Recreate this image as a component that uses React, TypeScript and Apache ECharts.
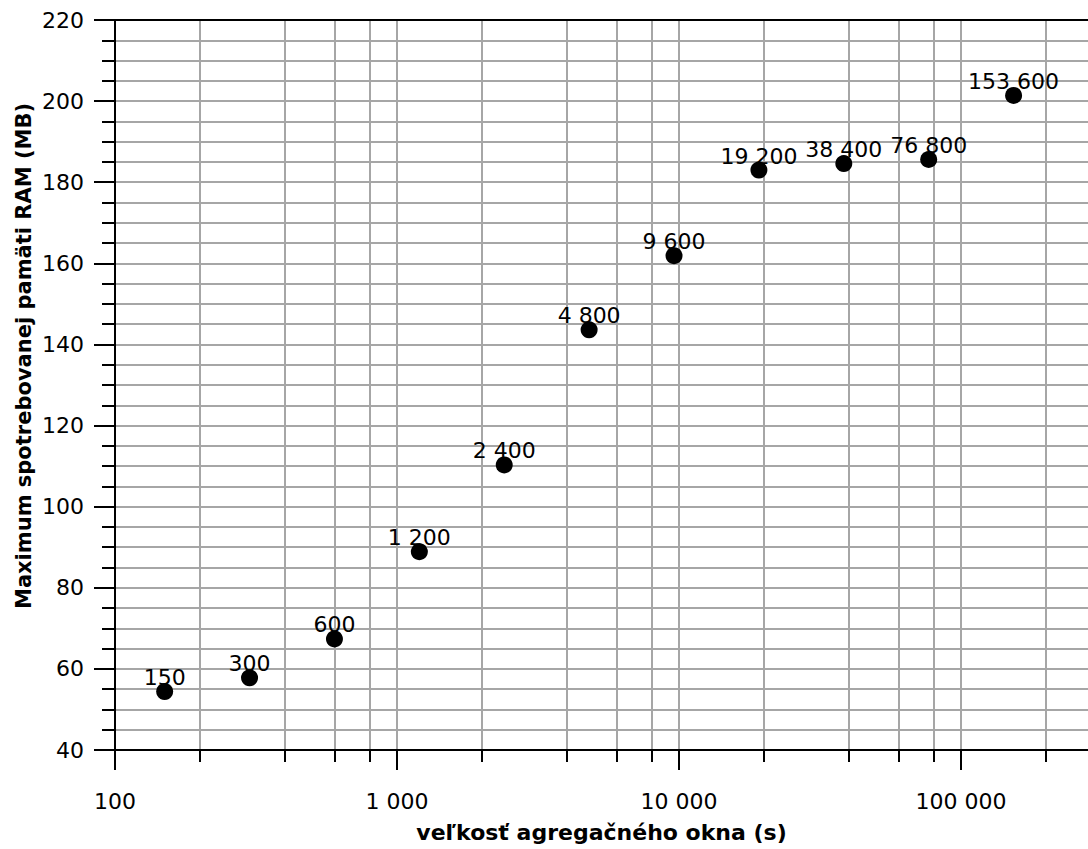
import React, { useEffect, useRef } from "react";
import * as echarts from "echarts";

const windowSizes = [150, 300, 600, 1200, 2400, 4800, 9600, 19200, 38400, 76800, 153600];
const maxRam = [54.4, 57.8, 67.4, 88.9, 110.3, 143.6, 161.9, 183.0, 184.6, 185.6, 201.4];
const majorXTicks = [100, 1000, 10000, 100000];
const minorXTicks = [
  200, 400, 600, 800,
  2000, 4000, 6000, 8000,
  20000, 40000, 60000, 80000,
  200000,
];
const xTitle = "veľkosť agregačného okna (s)";
const yTitle = "Maximum spotrebovanej pamäti RAM (MB)";

const fmt = (v: number) => String(Math.round(v)).replace(/\B(?=(\d{3})+(?!\d))/g, " ");
const FONT = "DejaVu Sans";

export default function App() {
  const ref = useRef<HTMLDivElement>(null);
  useEffect(() => {
    const chart = echarts.init(ref.current!, undefined, { renderer: "svg" });
    const xMin = 100;
    const xMax = 282000;
    chart.setOption({
      animation: false,
      backgroundColor: "#ffffff",
      textStyle: { fontFamily: FONT },
      grid: { left: 115, top: 20, right: 0, bottom: 99 },
      xAxis: [
        {
          type: "log",
          position: "bottom",
          min: xMin,
          max: xMax,
          axisLine: { show: true, lineStyle: { color: "#000", width: 2 } },
          axisTick: {
            show: true,
            inside: false,
            length: 20,
            customValues: majorXTicks,
            lineStyle: { color: "#000", width: 2 },
          },
          axisLabel: {
            customValues: majorXTicks,
            formatter: (v: number) => fmt(v),
            fontSize: 22,
            fontFamily: FONT,
            color: "#000",
            margin: 40,
          },
          splitLine: { show: true, lineStyle: { color: "#a6a6a6", width: 2 } },
          minorTick: { show: false },
          name: xTitle,
          nameLocation: "middle",
          nameGap: 71,
          nameTextStyle: { fontSize: 22, fontWeight: "bold", fontFamily: FONT, color: "#000" },
        },
        {
          type: "log",
          position: "bottom",
          min: xMin,
          max: xMax,
          axisLine: { show: false },
          axisTick: {
            show: true,
            inside: false,
            length: 12,
            customValues: minorXTicks,
            lineStyle: { color: "#000", width: 2 },
          },
          axisLabel: { show: false },
          splitLine: { show: true, lineStyle: { color: "#a6a6a6", width: 2 } },
        },
        {
          type: "log",
          position: "top",
          min: xMin,
          max: xMax,
          axisLine: { show: true, lineStyle: { color: "#000", width: 2 } },
          axisTick: { show: false },
          axisLabel: { show: false },
          splitLine: { show: false },
        },
      ],
      yAxis: {
        type: "value",
        min: 40,
        max: 220,
        interval: 20,
        axisLine: { show: true, lineStyle: { color: "#000", width: 2 } },
        axisTick: { show: true, inside: false, length: 21, lineStyle: { color: "#000", width: 2 } },
        minorTick: { show: true, splitNumber: 4, length: 13, lineStyle: { color: "#000", width: 2 } },
        axisLabel: { fontSize: 22, fontFamily: FONT, color: "#000", margin: 31 },
        splitLine: { show: true, lineStyle: { color: "#a6a6a6", width: 2 } },
        minorSplitLine: { show: true, lineStyle: { color: "#a6a6a6", width: 2 } },
      },
      graphic: [
        {
          type: "text",
          x: 24,
          y: 356,
          rotation: Math.PI / 2,
          style: {
            text: yTitle,
            fontSize: 21,
            fontWeight: "bold",
            fontFamily: FONT,
            fill: "#000",
            align: "center",
            verticalAlign: "middle",
          },
        },
      ],
      series: [
        {
          type: "scatter",
          xAxisIndex: 0,
          symbol: "circle",
          symbolSize: 17,
          itemStyle: { color: "#000", opacity: 1 },
          data: windowSizes.map((x, i) => [x, maxRam[i]]),
          label: {
            show: true,
            position: "inside",
            offset: [0, -14],
            formatter: (p: any) => fmt(p.value[0]),
            fontSize: 22,
            fontFamily: FONT,
            color: "#000",
          },
          z: 10,
        },
      ],
    });
    return () => chart.dispose();
  }, []);
  return (
    <div
      ref={ref}
      style={{ position: "absolute", left: 0, top: 0, width: 1088, height: 849 }}
    />
  );
}
